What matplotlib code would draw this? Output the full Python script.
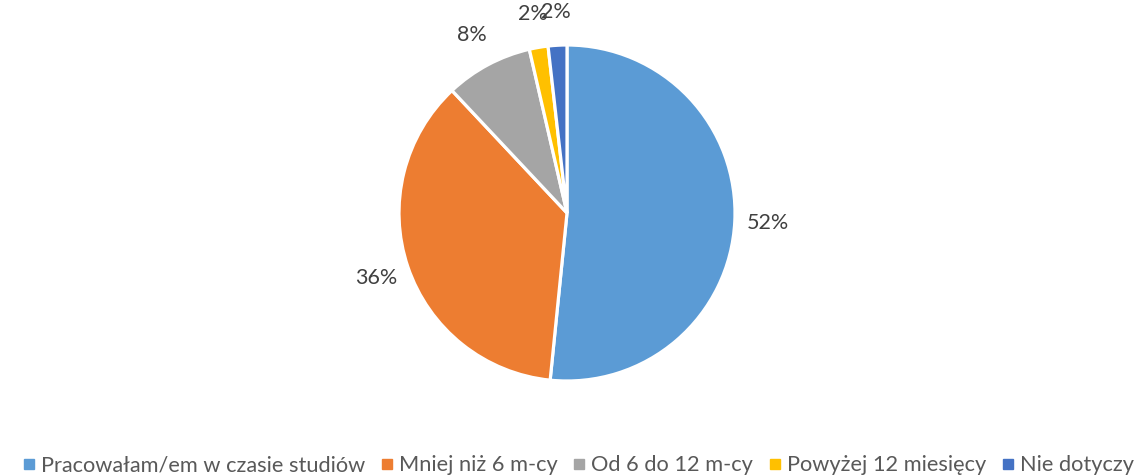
import matplotlib
matplotlib.use("Agg")
import matplotlib.pyplot as plt
from matplotlib.lines import Line2D

categories = ["Pracowałam/em w czasie studiów", "Mniej niż 6 m-cy", "Od 6 do 12 m-cy",
              "Powyżej 12 miesięcy", "Nie dotyczy"]
values = [51.6, 36.4, 8.4, 1.8, 1.8]
colors = ["#5B9BD5", "#ED7D31", "#A5A5A5", "#FFC000", "#4472C4"]

plt.rcParams['font.family'] = ['Lato', 'DejaVu Sans']
text_color = "#404040"

W, H = 1146, 476
fig = plt.figure(figsize=(W / 100, H / 100), dpi=100)
R = 168
cx, cy = 567, 213
lim = 1.4
side = 2 * R * lim
ax = fig.add_axes([(cx - side / 2) / W, (H - cy - side / 2) / H, side / W, side / H])

wedges, texts, autotexts = ax.pie(
    values, colors=colors, startangle=90, counterclock=False,
    autopct=lambda p: f"{p:.0f}%", pctdistance=1.2,
    wedgeprops=dict(edgecolor="white", linewidth=2.3),
    textprops=dict(color=text_color, fontsize=15.5))
ax.set_xlim(-lim, lim)
ax.set_ylim(-lim, lim)
ax.set_aspect("equal")
ax.axis("off")

handles = [Line2D([0], [0], marker='s', linestyle='none', markersize=7.5,
                  markerfacecolor=c, markeredgecolor=c) for c in colors]
fig.legend(handles, categories, loc="lower center", ncol=5, frameon=False,
           bbox_to_anchor=(0.505, -0.04), fontsize=15.7, labelcolor="#595959",
           handlelength=0.5, handletextpad=0.3, columnspacing=0.75)

fig.savefig("out.png", dpi=100, facecolor="white")
